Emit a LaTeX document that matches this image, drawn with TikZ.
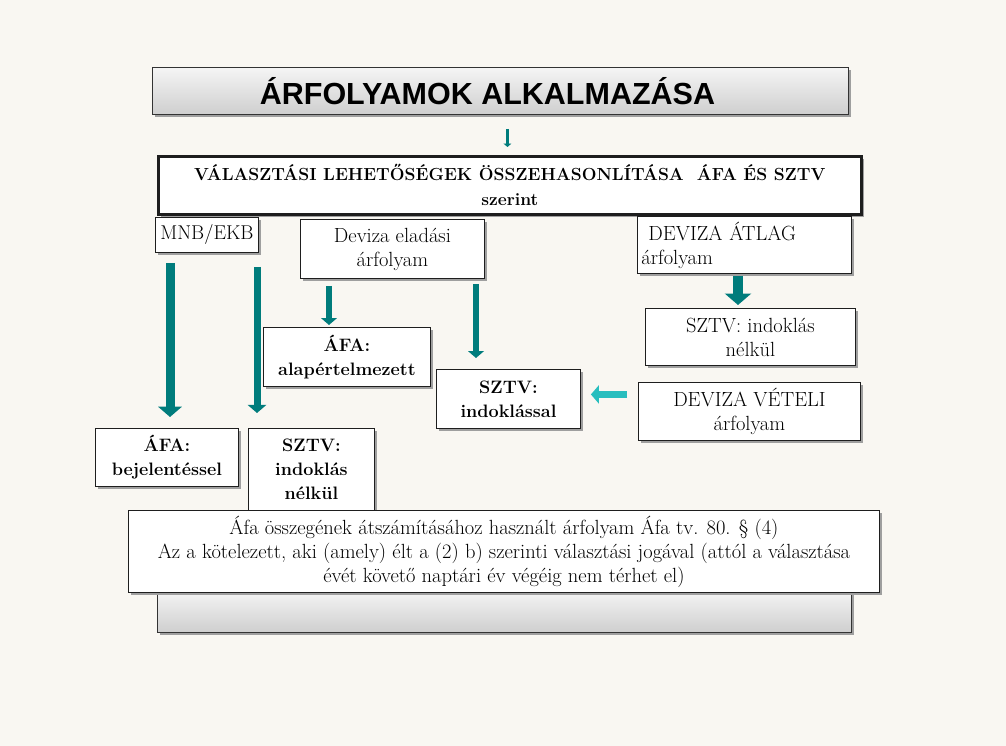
\documentclass[tikz,border=0pt]{standalone}
\usepackage{fontspec}
\setsansfont{Liberation Sans}
\usetikzlibrary{shadows,arrows.meta,calc}
\definecolor{PaperClr}{RGB}{249,247,242}
\definecolor{ArrowClr}{RGB}{0,124,124}
\definecolor{ArrowLightClr}{RGB}{40,190,190}
\definecolor{FrameClr}{RGB}{30,30,30}

\tikzset{
  box/.style={draw=FrameClr, line width=0.9pt, fill=white, anchor=north west,
    inner sep=2pt, align=center, font=\fontsize{20.5}{24}\selectfont,
    drop shadow={shadow xshift=3pt, shadow yshift=-3pt, fill=gray!75, opacity=1}},
  boldbox/.style={box, font=\fontsize{18}{24}\selectfont\bfseries},
  graybox/.style={box, top color=gray!8, bottom color=gray!38, draw=gray!40!black},
  arr/.style={draw=ArrowClr, line width=#1, -{Triangle[length=1.15*#1,width=2.6*#1]}},
  arr/.default=8pt
}

\begin{document}
\begin{tikzpicture}[x=1pt,y=-1pt]
\fill[PaperClr] (0,0) rectangle (1006,746);

% top of the chart
\node[graybox, minimum width=696, minimum height=47,
  font=\sffamily\bfseries\fontsize{30.5}{32}\selectfont] (title) at (152,67)
  {ÁRFOLYAMOK ALKALMAZÁSA\hspace*{26pt}};
\node[boldbox, line width=2.6pt, minimum width=703, minimum height=58,
  font=\fontsize{17.5}{25}\selectfont\bfseries] (choice) at (157,155)
  {VÁLASZTÁSI LEHETŐSÉGEK ÖSSZEHASONLÍTÁSA\ \ ÁFA ÉS SZTV\\szerint};

% sources
\node[box, minimum width=103, minimum height=35, font=\fontsize{20}{24}\selectfont] (mnb) at (155,217) {MNB/EKB};
\node[box, minimum width=184, minimum height=59] (elad) at (300,219) {Deviza eladási\\árfolyam};
\node[box, minimum width=214, minimum height=57, text width=206, align=left] (atlag) at (637,216)
  {\hspace*{7pt}DEVIZA ÁTLAG\\árfolyam};
\node[box, minimum width=222, minimum height=58] (vetel) at (638,382) {DEVIZA VÉTELI\\árfolyam};

% results
\node[box, minimum width=210, minimum height=57] (sztvR) at (645,308) {SZTV: indoklás\\nélkül};
\node[boldbox, minimum width=167, minimum height=59] (alap) at (263,327) {ÁFA:\\alapértelmezett};
\node[boldbox, minimum width=144, minimum height=59] (sztvI) at (436,369) {SZTV:\\indoklással};
\node[boldbox, minimum width=143, minimum height=58] (bej) at (95,428) {ÁFA:\\bejelentéssel};
\node[boldbox, minimum width=126, minimum height=82] (sztvL) at (248,428) {SZTV:\\indoklás\\nélkül};

% bottom note
\node[graybox, minimum width=694, minimum height=42] (empty) at (157,590) {};
\node[box, minimum width=751, minimum height=82] (note) at (128,510)
  {Áfa összegének átszámításához használt árfolyam Áfa tv. 80. § (4)\\
   Az a kötelezett, aki (amely) élt a (2) b) szerinti választási jogával (attól a választása\\
   évét követő naptári év végéig nem térhet el)};

% arrows
\draw[arr=3pt, shorten <=14pt, shorten >=8pt] ([xshift=7]title.south) -- ([xshift=7]title.south |- choice.north);
\draw[arr=9pt, shorten <=10pt, shorten >=11pt] ([xshift=15]mnb.south west) -- ([xshift=75]bej.north west);
\draw[arr=7pt, shorten <=14pt, shorten >=15pt] ([xshift=102]mnb.south west) -- ([xshift=9]sztvL.north west);
\draw[arr=6pt, shorten <=7pt, shorten >=2pt] ([xshift=29]elad.south west) -- ([xshift=66]alap.north west);
\draw[arr=6pt, shorten <=5pt, shorten >=11pt] ([xshift=176]elad.south west) -- ([xshift=40]sztvI.north west);
\draw[arr=10pt, shorten <=2pt, shorten >=3pt] ([xshift=101]atlag.south west) -- ([xshift=93]sztvR.north west);
\draw[arr=7pt, draw=ArrowLightClr, shorten <=11pt, shorten >=10pt]
  ([yshift=17]vetel.west) -- ([yshift=17]vetel.west -| sztvI.east);

\end{tikzpicture}
\end{document}
